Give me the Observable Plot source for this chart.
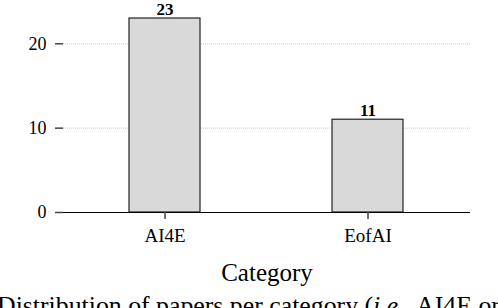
<!DOCTYPE html>
<html>
<head>
<meta charset="utf-8">
<script src="https://cdn.jsdelivr.net/npm/d3@7"></script>
<script src="https://cdn.jsdelivr.net/npm/@observablehq/plot@0.6"></script>
<style>
  html, body { margin: 0; padding: 0; background: #fff; overflow: hidden; }
  #chart { width: 498px; height: 308px; overflow: hidden; position: relative; font-family: "Liberation Serif", "DejaVu Serif", serif; }
  #caption { position: absolute; left: -3px; top: 288px; width: 504px; line-height: 1.4; font-size: 25.8px; color: #000; }
</style>
</head>
<body>
<div id="chart"></div>
<script>
const categories = ["AI4E", "EofAI"];
const counts = [23, 11];
const yTicks = [0, 10, 20];
const xLabel = "Category";
const captionText = "Distribution of papers per category (<i>i.e.</i>, AI4E or EofAI).";

const data = categories.map((c, i) => ({category: c, count: counts[i]}));

const plot = Plot.plot({
  width: 498,
  height: 292,
  marginTop: 18,
  marginLeft: 63,
  marginRight: 28,
  marginBottom: 80,
  style: {fontFamily: "'Liberation Serif', 'DejaVu Serif', serif", fontSize: "18px", color: "#000", background: "#fff", overflow: "visible"},
  x: {domain: categories, paddingInner: 0.65, paddingOuter: 0.325, label: null},
  y: {domain: [0, 23], label: null},
  marks: [
    Plot.gridY(yTicks, {stroke: "#ccc", strokeOpacity: 1, strokeDasharray: "1,1"}),
    Plot.barY(data, {x: "category", y: "count", fill: "#d9d9d9", stroke: "#222", strokeWidth: 1.2}),
    Plot.ruleY([0], {stroke: "#000", strokeWidth: 1.2}),
    Plot.axisY(yTicks, {tickSize: 8, tickPadding: 9, stroke: "#444", strokeWidth: 1.5, fontSize: 18, label: null}),
    Plot.axisX({tickSize: 7, tickPadding: 9, stroke: "#444", strokeWidth: 1.5, fontSize: 19, label: null}),
    Plot.text(data, {x: "category", y: "count", text: d => String(d.count), dy: -9, fontSize: 17, fontWeight: "bold", fill: "#000"}),
    Plot.text([xLabel], {frameAnchor: "bottom", dy: 68, fontSize: 25, fill: "#000"})
  ]
});
document.getElementById("chart").appendChild(plot);
const cap = document.createElement("div");
cap.id = "caption";
cap.innerHTML = captionText;
document.getElementById("chart").appendChild(cap);
</script>
</body>
</html>
